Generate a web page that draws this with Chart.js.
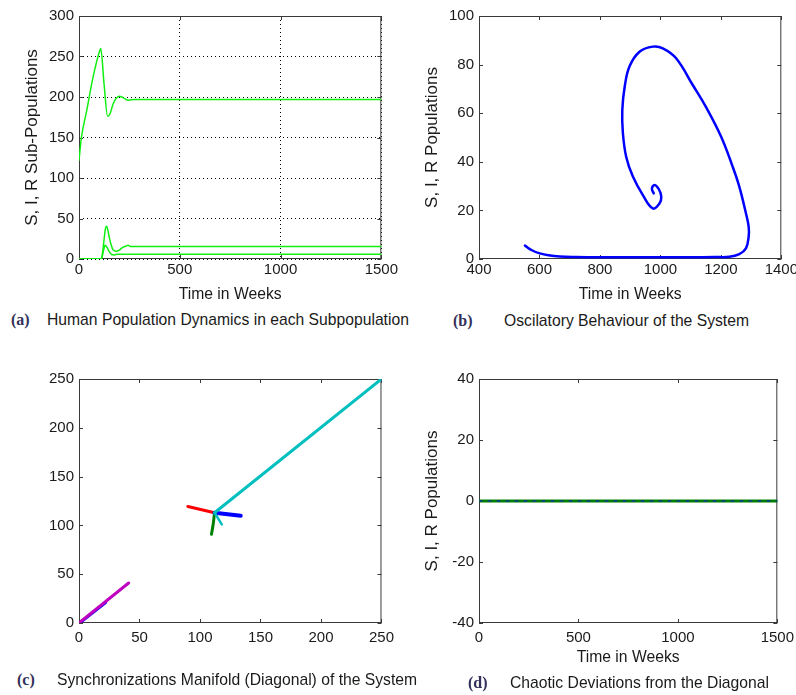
<!DOCTYPE html>
<html>
<head>
<meta charset="utf-8">
<script src="https://cdn.jsdelivr.net/npm/chart.js@4.4.1/dist/chart.umd.min.js"></script>
<style>
  html, body { margin: 0; padding: 0; background: #fff; }
  body { width: 796px; height: 695px; position: relative; overflow: hidden; }
  canvas { position: absolute; }
  .cap { position: absolute; height: 20px; line-height: 20px; white-space: nowrap;
         font-family: 'Liberation Sans', Arial, sans-serif; font-size: 15.7px; color: #1a1a1a; }
  .tag { position: absolute; height: 20px; line-height: 20px; white-space: nowrap;
         font-family: 'Liberation Serif', 'Times New Roman', serif; font-weight: bold; font-size: 16px; color: #33305a; }
</style>
</head>
<body>
<canvas id="chartA" width="400" height="308" style="left:0;top:0"></canvas>
<canvas id="chartB" width="400" height="308" style="left:400px;top:0"></canvas>
<canvas id="chartC" width="400" height="325" style="left:0;top:340px"></canvas>
<canvas id="chartD" width="400" height="331" style="left:400px;top:340px"></canvas>

<div class="tag" style="left:11px;top:310px">(a)</div>
<div class="cap" style="left:47px;top:310px">Human Population Dynamics in each Subpopulation</div>
<div class="tag" style="left:453px;top:311px">(b)</div>
<div class="cap" style="left:504px;top:311px">Oscilatory Behaviour of the System</div>
<div class="tag" style="left:17px;top:670px">(c)</div>
<div class="cap" style="left:57px;top:670px">Synchronizations Manifold (Diagonal) of the System</div>
<div class="tag" style="left:468px;top:673px">(d)</div>
<div class="cap" style="left:510px;top:673px">Chaotic Deviations from the Diagonal</div>

<script>
// (a) sub-populations over time
const weeksS = [0, 12, 38, 71, 104, 108, 124, 142, 155, 170, 200, 220, 244, 277, 1500];
const popS   = [122, 150, 183, 226, 258, 260, 217, 176, 180, 192, 201, 199, 196, 197, 197];
const weeksI = [0, 105, 112, 124, 130, 137, 143, 150, 160, 170, 185, 200, 215, 235, 244, 255, 1500];
const popI   = [0, 0, 1, 23, 36, 40.5, 36, 27, 17, 11, 9.5, 11, 14, 16, 17, 15.5, 15.5];
const weeksR = [0, 108, 115, 122, 130, 140, 150, 162, 175, 190, 205, 1500];
const popR   = [0, 0, 3, 11, 17, 14, 9, 5.5, 5, 6, 6, 6];

// (b) oscillating orbit
const orbitX = [552, 575, 601, 630, 667, 720, 800, 900, 1000, 1100, 1180, 1228, 1261, 1283, 1292, 1292,
                1283, 1261, 1239, 1201, 1151, 1107, 1052, 1008, 975, 931, 898, 882, 874, 876, 887, 909,
                942, 975, 997, 1003, 995, 981, 972, 978];
const orbitY = [5.5, 3.6, 2.3, 1.5, 1.0, 0.8, 0.7, 0.7, 0.7, 0.7, 0.8, 0.9, 2, 4.4, 9.2, 13.3,
                18.8, 29.8, 38, 50.3, 62.5, 71.6, 82.6, 86.7, 87.4, 85.3, 79.3, 71, 61.3, 51.7, 42, 33.9,
                26.3, 20.8, 22.8, 25.6, 28.7, 30.5, 29, 27];

// (c) synchronization manifold segments
const lowBlueX = [1, 22],      lowBlueY = [0.5, 21];
const magentaX = [0, 41],      magentaY = [0, 41];
const redX     = [90, 112],    redY     = [119.4, 113];
const blueX    = [112, 133.7], blueY    = [113, 109.9];
const greenX   = [112, 111, 109.5], greenY = [113, 102, 91];
const cyanX    = [112, 250],   cyanY    = [113, 250];
const cyanBX   = [112, 118],   cyanBY   = [113, 101];

// (d) deviations from the diagonal
const devT = [0, 1500];
const devS = [0, 0];
const devI = [0, 0];

// tick labels
const ticksTime   = [0, 500, 1000, 1500];
const ticksPopA   = [0, 50, 100, 150, 200, 250, 300];
const ticksOrbitX = [400, 600, 800, 1000, 1200, 1400];
const ticksOrbitY = [0, 20, 40, 60, 80, 100];
const ticksDiag   = [0, 50, 100, 150, 200, 250];
const ticksDev    = [-40, -20, 0, 20, 40];

const pts = (xs, ys) => xs.map((x, i) => ({ x, y: ys[i] }));

Chart.defaults.font.family = "'Liberation Sans', Arial, sans-serif";
Chart.defaults.font.size = 15;
Chart.defaults.color = '#1a1a1a';

// box with inward tick marks, like the matlab axes
const matlabBox = {
    id: 'matlabBox',
    beforeDatasetsDraw(chart) {
        const { ctx, chartArea: a, scales: { x, y } } = chart;
        const len = 4;
        ctx.save();
        ctx.strokeStyle = '#3a3a3a';
        ctx.lineWidth = 1;
        ctx.beginPath();
        x.ticks.forEach(t => {
            const px = Math.round(x.getPixelForValue(t.value)) + 0.5;
            ctx.moveTo(px, a.bottom); ctx.lineTo(px, a.bottom - len);
            ctx.moveTo(px, a.top); ctx.lineTo(px, a.top + len);
        });
        y.ticks.forEach(t => {
            const py = Math.round(y.getPixelForValue(t.value)) + 0.5;
            ctx.moveTo(a.left, py); ctx.lineTo(a.left + len, py);
            ctx.moveTo(a.right, py); ctx.lineTo(a.right - len, py);
        });
        ctx.stroke();
        ctx.strokeRect(a.left + 0.5, a.top + 0.5, a.right - a.left - 1, a.bottom - a.top - 1);
        ctx.restore();
    }
};

function line(xs, ys, color, width, extra) {
    return Object.assign({
        data: pts(xs, ys),
        showLine: true,
        borderColor: color,
        backgroundColor: color,
        borderWidth: width,
        pointRadius: 0,
        fill: false
    }, extra || {});
}

// note: chart.js paints dataset 0 last, so the top-most line goes first
function makeChart(id, datasets, o) {
    const axis = (ticks, fitFn, pad, title, titleSize) => ({
        type: 'linear',
        min: ticks[0],
        max: ticks[ticks.length - 1],
        afterBuildTicks: s => { s.ticks = ticks.map(v => ({ value: v })); },
        afterFit: fitFn,
        ticks: { padding: pad, maxRotation: 0, autoSkip: false, callback: v => String(v) },
        grid: { display: !!o.grid, drawTicks: false, color: '#000', lineWidth: 1 },
        border: { display: false, dash: [1, 3] },
        title: { display: !!title, text: title || '', font: { size: titleSize } }
    });
    return new Chart(document.getElementById(id), {
        type: 'scatter',
        data: { datasets },
        options: {
            animation: false,
            responsive: false,
            devicePixelRatio: 1,
            layout: { padding: { left: 18, top: o.top, right: 18, bottom: 0 } },
            plugins: { legend: { display: false }, tooltip: { enabled: false } },
            elements: { line: { borderCapStyle: 'round', borderJoinStyle: 'round' } },
            scales: {
                x: axis(o.xTicks, s => { s.height = o.xHeight; }, o.xPad, o.xTitle, 15.7),
                y: axis(o.yTicks, s => { s.width = 61; }, 5, o.yTitle, 17)
            }
        },
        plugins: [matlabBox]
    });
}

makeChart('chartA', [
    line(weeksS, popS, '#10f010', 1.5, { cubicInterpolationMode: 'monotone' }),
    line(weeksI, popI, '#10f010', 1.5, { cubicInterpolationMode: 'monotone' }),
    line(weeksR, popR, '#10f010', 1.5, { cubicInterpolationMode: 'monotone' })
], { top: 16, xHeight: 49, xPad: 2, grid: true, xTicks: ticksTime, yTicks: ticksPopA,
     xTitle: 'Time in Weeks', yTitle: 'S, I, R Sub-Populations' });

makeChart('chartB', [
    line(orbitX, orbitY, '#0000ff', 2.5, { tension: 0.4 })
], { top: 16, xHeight: 49, xPad: 2, xTicks: ticksOrbitX, yTicks: ticksOrbitY,
     xTitle: 'Time in Weeks', yTitle: 'S, I, R Populations' });

makeChart('chartC', [
    line(cyanX, cyanY, '#00bfbf', 3),
    line(cyanBX, cyanBY, '#00bfbf', 2.5),
    line(blueX, blueY, '#0000ff', 4),
    line(greenX, greenY, '#008000', 3, { tension: 0.3 }),
    line(redX, redY, '#ff0000', 3),
    line(magentaX, magentaY, '#bf00bf', 3),
    line(lowBlueX, lowBlueY, '#0000ff', 3)
], { top: 39, xHeight: 42, xPad: 6, xTicks: ticksDiag, yTicks: ticksDiag });

makeChart('chartD', [
    line(devT, devI, '#1010e0', 1, { borderDash: [3, 6] }),
    line(devT, devS, '#008000', 3)
], { top: 39, xHeight: 48, xPad: 6, xTicks: ticksTime, yTicks: ticksDev,
     xTitle: 'Time in Weeks', yTitle: 'S, I, R Populations' });
</script>
</body>
</html>
